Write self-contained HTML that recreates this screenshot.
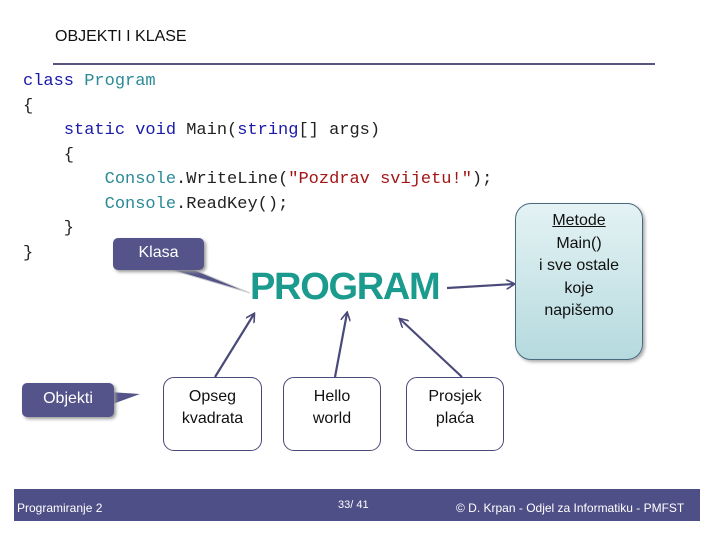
<!DOCTYPE html>
<html><head><meta charset="utf-8"><style>
body{margin:0;width:720px;height:540px;background:#fff;position:relative;overflow:hidden;font-family:"Liberation Sans",sans-serif}
.a{position:absolute}
.code{font-family:"Liberation Mono",monospace;font-size:17px;color:#222;white-space:pre;line-height:24.5px}
.kw{color:#1a1aaa}.ty{color:#2b8a96}.st{color:#a31515}
.ob{position:absolute;border:1.3px solid #4a4a7a;border-radius:11px;background:#fff;text-align:center;font-size:16px;line-height:22px;padding-top:8px;box-sizing:border-box;color:#111}
.call{position:absolute;background:#54548a;color:#fff;border-radius:5px;font-size:16px;text-align:center;box-shadow:2px 2px 3px #999;box-sizing:border-box}
</style></head><body>
<div class="a" style="left:55px;top:28px;font-size:16px;color:#111">OBJEKTI I KLASE</div>
<div class="a" style="left:53px;top:63px;width:602px;height:2px;background:#55557f"></div>
<div class="a code" style="left:23px;top:70px"><span class="kw">class</span> <span class="ty">Program</span>
{
    <span class="kw">static void</span> Main(<span class="kw">string</span>[] args)
    {
        <span class="ty">Console</span>.WriteLine(<span class="st">"Pozdrav svijetu!"</span>);
        <span class="ty">Console</span>.ReadKey();
    }
}</div>
<svg class="a" style="left:0;top:0" width="720" height="540">
<defs><marker id="m" markerWidth="10" markerHeight="10" refX="8" refY="5" orient="auto" markerUnits="userSpaceOnUse"><path d="M0,0 L9,5 L0,10" fill="none" stroke="#4a4a7a" stroke-width="1.6"/></marker></defs>
<polygon points="165,268 190,268 250,293" fill="#54548a" stroke="#ccc" stroke-width="1"/>
<polygon points="110,392 110,405 140,394" fill="#54548a"/>
<g stroke="#4a4a7a" stroke-width="2.2" fill="none" marker-end="url(#m)">
<line x1="215" y1="377" x2="254" y2="314"/>
<line x1="335" y1="377" x2="347" y2="313"/>
<line x1="462" y1="377" x2="400" y2="319"/>
<line x1="447" y1="288" x2="514" y2="284"/>
</g>
</svg>
<div class="call" style="left:113px;top:238px;width:91px;height:32px;line-height:30px">Klasa</div>
<div class="call" style="left:22px;top:383px;width:92px;height:34px;line-height:32px">Objekti</div>
<div class="a" style="left:250px;top:266px;font-size:38px;font-weight:bold;color:#1b9a8e;letter-spacing:-1.3px">PROGRAM</div>
<div class="a" style="left:515px;top:203px;width:128px;height:157px;border:1.3px solid #4a6a80;border-radius:16px;background:linear-gradient(#e4f2f4,#b5dade);box-shadow:2px 2px 3px #aaa;text-align:center;font-size:16px;line-height:22.5px;padding-top:6px;box-sizing:border-box;color:#111"><u>Metode</u><br>Main()<br>i sve ostale<br>koje<br>napišemo</div>
<div class="ob" style="left:163px;top:377px;width:99px;height:74px">Opseg<br>kvadrata</div>
<div class="ob" style="left:283px;top:377px;width:98px;height:74px">Hello<br>world</div>
<div class="ob" style="left:406px;top:377px;width:98px;height:74px">Prosjek<br>plaća</div>
<div class="a" style="left:14px;top:489px;width:686px;height:32px;background:#4f4f88;color:#fff;font-size:12px">
<span class="a" style="left:3px;top:12px">Programiranje 2</span>
<span class="a" style="left:324px;top:10px;font-size:11px">33/ 41</span>
<span class="a" style="left:442px;top:12px">© D. Krpan - Odjel za Informatiku - PMFST</span>
</div>
</body></html>
